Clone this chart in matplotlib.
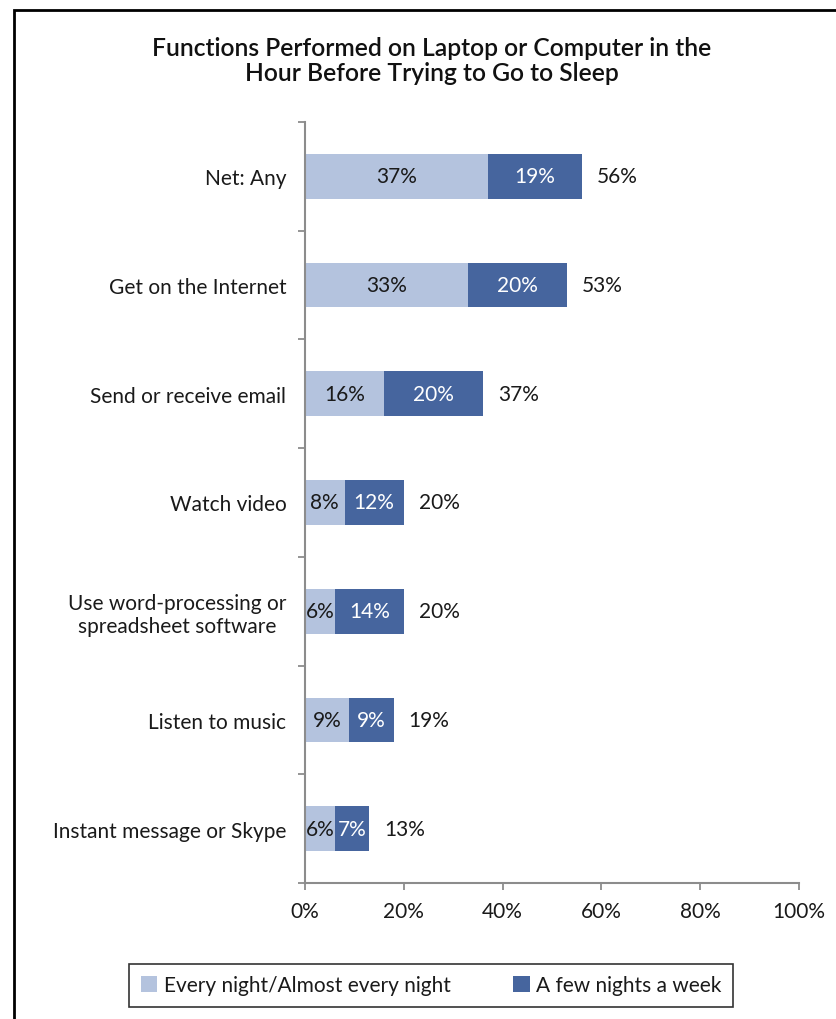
import numpy as np
import matplotlib.pyplot as plt
from matplotlib.patches import Rectangle

plt.rcParams['font.family'] = ['Lato', 'DejaVu Sans']

categories = ['Net: Any', 'Get on the Internet', 'Send or receive email',
              'Watch video', 'Use word-processing or\nspreadsheet software',
              'Listen to music', 'Instant message or Skype']
every_night = [37, 33, 16, 8, 6, 9, 6]
few_nights = [19, 20, 20, 12, 14, 9, 7]
net_total = [56, 53, 37, 20, 20, 19, 13]
series_names = ['Every night/Almost every night', 'A few nights a week']

light = '#B4C3DE'
dark = '#46659E'
axis_gray = '#8C8C8C'
fs = 15

fig = plt.figure(figsize=(8.37, 10.2), dpi=100)
ax = fig.add_axes([305/837, 1-884/1020, 494/837, 761/1020])

y = np.arange(len(categories))
b1 = ax.barh(y, every_night, height=0.41, color=light, label=series_names[0])
b2 = ax.barh(y, few_nights, left=every_night, height=0.41, color=dark,
             label=series_names[1])

for i in range(len(categories)):
    ax.text(every_night[i]/2, y[i], f'{every_night[i]}%', ha='center',
            va='center', fontsize=fs, color='#1a1a1a')
    ax.text(every_night[i] + few_nights[i]/2, y[i], f'{few_nights[i]}%',
            ha='center', va='center', fontsize=fs, color='white')
    ax.text(every_night[i] + few_nights[i] + 3, y[i], f'{net_total[i]}%',
            ha='left', va='center', fontsize=fs, color='#1a1a1a')

ax.set_xlim(0, 100)
ax.set_ylim(len(categories) - 0.5, -0.5)
ax.set_xticks(range(0, 101, 20))
ax.set_xticklabels([f'{v}%' for v in range(0, 101, 20)])
ax.set_yticks(y)
ax.set_yticklabels(categories, ha='right', multialignment='center')
ax.set_yticks(np.arange(-0.5, len(categories)), minor=True)
ax.tick_params(axis='y', which='major', length=0, pad=13.5, labelsize=fs,
               labelcolor='#1a1a1a')
ax.tick_params(axis='y', which='minor', length=5, color=axis_gray, width=1.3)
ax.tick_params(axis='x', length=5, color=axis_gray, width=1.3, pad=8,
               labelsize=fs, labelcolor='#1a1a1a')

for s in ['top', 'right']:
    ax.spines[s].set_visible(False)
for s in ['left', 'bottom']:
    ax.spines[s].set_color(axis_gray)
    ax.spines[s].set_linewidth(1.5)

fig.text(432/837, 1-61/1020,
         'Functions Performed on Laptop or Computer in the\nHour Before Trying to Go to Sleep',
         ha='center', va='center', fontsize=17.7, fontweight='semibold',
         linespacing=1.1, color='#111111')

leg = fig.legend(handles=[b1, b2], loc='center', ncol=2,
                 bbox_to_anchor=(431/837, 1-986.5/1020), fontsize=fs,
                 frameon=True, fancybox=False, edgecolor='black',
                 handlelength=0.8, handleheight=0.8, handletextpad=0.3,
                 columnspacing=3.0, borderpad=0.55, borderaxespad=0)
leg.get_frame().set_linewidth(1.2)
for t in leg.get_texts():
    t.set_color('#1a1a1a')

# outer frame of the chart area
fig.patches.append(Rectangle((14/837, -0.05), 1.0, 1-11/1020 + 0.05,
                             transform=fig.transFigure, fill=False,
                             edgecolor='black', linewidth=2))

fig.savefig('out.png', dpi=100)
